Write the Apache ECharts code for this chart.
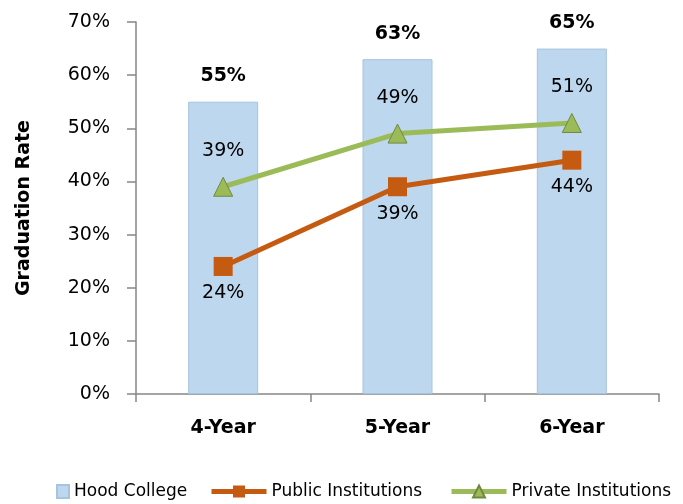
<!DOCTYPE html>
<html>
<head>
<meta charset="utf-8">
<script src="https://cdn.jsdelivr.net/npm/echarts@6/dist/echarts.min.js"></script>
<style>
  html, body { margin: 0; padding: 0; background: #fff; }
  #chart { width: 683px; height: 504px; }
</style>
</head>
<body>
<div id="chart"></div>
<script>
// 数据
const categories = ['4-Year', '5-Year', '6-Year'];
const hoodCollege = [55, 63, 65];
const publicInst = [24, 39, 44];
const privateInst = [39, 49, 51];
const yTicks = [0, 10, 20, 30, 40, 50, 60, 70];

const font = '"DejaVu Sans", sans-serif';
const orange = '#C55A11';
const green = '#9BBB59';

const legendText = { fontSize: 17, color: '#000', fontFamily: font };

const chart = echarts.init(document.getElementById('chart'));

const option = {
  animation: false,
  textStyle: { fontFamily: font },
  grid: { left: 136, right: 24, top: 22, bottom: 110 },
  // 每个图例单独定位
  legend: [
    {
      bottom: 4, left: 56, padding: 0,
      itemWidth: 12, itemHeight: 13, icon: 'rect',
      textStyle: legendText,
      data: ['Hood College']
    },
    {
      bottom: 4, left: 209, padding: 0,
      itemWidth: 55, itemHeight: 15,
      textStyle: legendText,
      data: [{ name: 'Public Institutions', lineStyle: { width: 5 } }]
    },
    {
      bottom: 4, left: 449, padding: 0,
      itemWidth: 55, itemHeight: 15,
      textStyle: legendText,
      data: [{ name: 'Private Institutions', lineStyle: { width: 5 } }]
    }
  ],
  xAxis: {
    type: 'category',
    data: categories,
    axisLine: { lineStyle: { color: '#868686', width: 1.5 } },
    axisTick: { show: true, length: 8, lineStyle: { color: '#868686', width: 1.5 } },
    axisLabel: { fontSize: 19, fontWeight: 'bold', color: '#000', margin: 25 }
  },
  yAxis: {
    type: 'value',
    min: yTicks[0],
    max: yTicks[yTicks.length - 1],
    interval: 10,
    name: 'Graduation Rate',
    nameLocation: 'middle',
    nameGap: 102,
    nameTextStyle: { fontSize: 19, fontWeight: 'bold', color: '#000' },
    axisLine: { show: true, lineStyle: { color: '#868686', width: 1.5 } },
    axisTick: { show: true, length: 9, lineStyle: { color: '#868686', width: 1.5 } },
    splitLine: { show: false },
    axisLabel: { fontSize: 19, color: '#000', margin: 26, formatter: '{value}%' }
  },
  series: [
    {
      name: 'Hood College',
      type: 'bar',
      data: hoodCollege,
      barWidth: 70,
      itemStyle: { color: '#BDD7EE', borderColor: '#A8C3DE', borderWidth: 1 },
      label: {
        show: true,
        position: 'top',
        distance: 16,
        fontSize: 19,
        fontWeight: 'bold',
        color: '#000',
        formatter: '{c}%'
      }
    },
    {
      name: 'Public Institutions',
      type: 'line',
      data: publicInst,
      symbol: 'rect',
      symbolSize: 19,
      lineStyle: { color: orange, width: 5 },
      itemStyle: { color: orange },
      label: {
        show: true,
        position: 'bottom',
        distance: 8,
        fontSize: 19,
        color: '#000',
        formatter: '{c}%'
      }
    },
    {
      name: 'Private Institutions',
      type: 'line',
      data: privateInst,
      symbol: 'triangle',
      symbolSize: 19,
      lineStyle: { color: green, width: 5 },
      itemStyle: { color: green, borderColor: '#71893F', borderWidth: 1 },
      label: {
        show: true,
        position: 'top',
        distance: 16,
        fontSize: 19,
        color: '#000',
        formatter: '{c}%'
      }
    }
  ]
};

chart.setOption(option);
</script>
</body>
</html>
